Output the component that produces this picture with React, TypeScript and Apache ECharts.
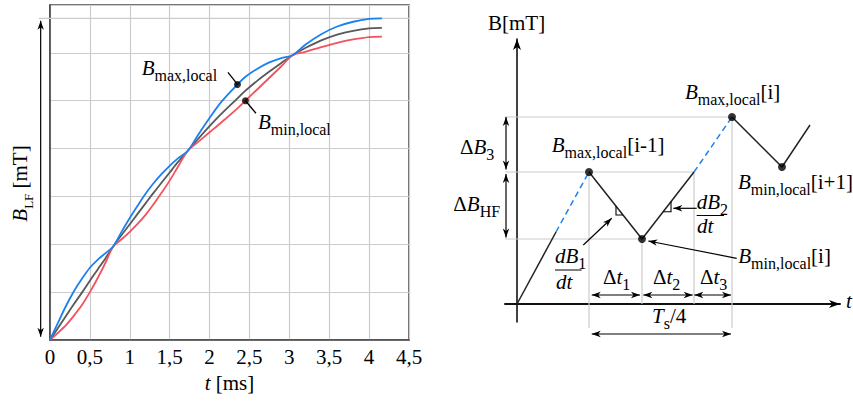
import React, { useEffect, useRef } from "react";
import * as echarts from "echarts";

const FONT = '"Liberation Serif", "Times New Roman", Times, serif';
const BLUE = "#1a80f0";
const RED = "#f2525f";
const DARK = "#585858";
const GRID = "#cccccc";
const INK = "#111111";

// Left panel: low-frequency flux density B_LF and its local envelopes (t in ms)
const tMs = [0, 0.1, 0.2, 0.3, 0.4, 0.5, 0.6, 0.7, 0.79, 0.9, 1.0, 1.1, 1.2, 1.3, 1.4, 1.5, 1.6, 1.73, 1.85, 2.0, 2.15, 2.35, 2.45, 2.6, 2.75, 2.9, 3.04, 3.2, 3.4, 3.6, 3.8, 4.0, 4.16];
const bLF = [0, 0.25, 0.5, 0.75, 0.99, 1.24, 1.48, 1.72, 1.95, 2.2, 2.42, 2.64, 2.86, 3.08, 3.29, 3.5, 3.71, 3.96, 4.19, 4.47, 4.73, 5.05, 5.21, 5.42, 5.61, 5.79, 5.95, 6.1, 6.26, 6.38, 6.46, 6.51, 6.52];
const bMaxLocal = [0, 0.36, 0.71, 1.02, 1.28, 1.51, 1.68, 1.82, 1.95, 2.27, 2.55, 2.81, 3.06, 3.28, 3.47, 3.64, 3.79, 3.96, 4.27, 4.64, 4.98, 5.34, 5.5, 5.67, 5.8, 5.89, 5.95, 6.17, 6.39, 6.55, 6.65, 6.71, 6.72];
const bMinLocal = [0, 0.15, 0.31, 0.51, 0.73, 1.0, 1.3, 1.63, 1.95, 2.11, 2.26, 2.43, 2.62, 2.84, 3.08, 3.33, 3.61, 3.96, 4.13, 4.34, 4.55, 4.84, 5.0, 5.24, 5.48, 5.72, 5.95, 6.02, 6.12, 6.21, 6.28, 6.33, 6.34];
const tAxis = { min: 0, max: 4.5, step: 0.5 };
const markedMaxT = 2.35;
const markedMinT = 2.45;

// Right panel: schematic HF triangle riding on B (arbitrary units)
const schemT = [0, 3.9, 7.2, 12.5, 17.7, 21.5, 26.5, 29.3];
const schemB = [0, 7.2, 13.2, 6.5, 13.2, 18.7, 13.7, 17.9];
const solidRuns = [[0, 1], [2, 3, 4], [5, 6, 7]];
const dashedRuns = [[1, 2], [4, 5]];
const dotIdx = [2, 3, 5, 6];

const tok = (size: number, italic: boolean, padB: number) => ({
  fontFamily: FONT,
  fontSize: size,
  fontStyle: italic ? "italic" : "normal",
  lineHeight: size + 3,
  padding: [0, 0, padB, 0],
  verticalAlign: "bottom",
  fill: "#000",
  color: "#000",
});
const RICH = {
  i: tok(21, true, 5),
  r: tok(21, false, 5),
  s: tok(16, false, 0),
  sl: tok(13, false, 1),
};

const pairs = (xs: number[], ys: number[], idx: number[]) => idx.map((k) => [xs[k], ys[k]]);

function buildOption(): any {
  const curve = (name: string, ys: number[], color: string) => ({
    name,
    type: "line",
    xAxisIndex: 0,
    yAxisIndex: 0,
    data: tMs.map((t, k) => [t, ys[k]]),
    showSymbol: false,
    smooth: 0.3,
    lineStyle: { color, width: 1.8 },
    z: 3,
  });
  const seg = (idx: number[], dashed: boolean) => ({
    type: "line",
    xAxisIndex: 1,
    yAxisIndex: 1,
    data: pairs(schemT, schemB, idx),
    showSymbol: false,
    lineStyle: dashed ? { color: BLUE, width: 1.5, type: [6, 4] } : { color: "#222", width: 1.5 },
    z: 3,
  });
  const idxOf = (t: number) => tMs.indexOf(t);
  return {
    animation: false,
    grid: [
      { left: 50, top: 5, width: 359, height: 335, show: true, borderColor: "#4a4a4a", borderWidth: 1.6 },
      { left: 505, top: 39, width: 335, height: 283 },
    ],
    xAxis: [
      {
        type: "value",
        gridIndex: 0,
        min: tAxis.min,
        max: tAxis.max,
        interval: tAxis.step,
        axisLine: { show: true, lineStyle: { color: "#4a4a4a", width: 1.6 } },
        axisTick: { show: false },
        splitLine: { show: true, lineStyle: { color: GRID, width: 1.2 } },
        axisLabel: {
          show: true,
          margin: 6,
          color: "#000",
          fontFamily: FONT,
          fontSize: 21,
          showMinLabel: true,
          showMaxLabel: true,
          formatter: (v: number) => String(v).replace(".", ","),
        },
      },
      {
        type: "value",
        gridIndex: 1,
        min: -1.2,
        max: 32.3,
        axisLine: { show: true, onZero: true, lineStyle: { color: INK, width: 2 } },
        axisTick: { show: false },
        axisLabel: { show: false },
        splitLine: { show: false },
      },
    ],
    yAxis: [
      {
        type: "value",
        gridIndex: 0,
        min: 0,
        max: 7,
        interval: 1,
        axisLine: { show: true, lineStyle: { color: "#4a4a4a", width: 1.6 } },
        axisTick: { show: false },
        axisLabel: { show: false },
        splitLine: { show: true, lineStyle: { color: GRID, width: 1.2 } },
      },
      {
        type: "value",
        gridIndex: 1,
        min: -1.8,
        max: 26.5,
        axisLine: { show: true, onZero: true, lineStyle: { color: INK, width: 1.6 } },
        axisTick: { show: false },
        axisLabel: { show: false },
        splitLine: { show: false },
      },
    ],
    series: [
      curve("B_LF", bLF, DARK),
      curve("B_min,local", bMinLocal, RED),
      curve("B_max,local", bMaxLocal, BLUE),
      {
        type: "scatter",
        xAxisIndex: 0,
        yAxisIndex: 0,
        symbolSize: 7,
        itemStyle: { color: "#000" },
        data: [
          [markedMaxT, bMaxLocal[idxOf(markedMaxT)]],
          [markedMinT, bMinLocal[idxOf(markedMinT)]],
        ],
        z: 5,
      },
      ...solidRuns.map((r) => seg(r, false)),
      ...dashedRuns.map((r) => seg(r, true)),
      {
        type: "scatter",
        xAxisIndex: 1,
        yAxisIndex: 1,
        symbolSize: 8,
        itemStyle: { color: "#000" },
        data: pairs(schemT, schemB, dotIdx),
        z: 5,
      },
    ],
  };
}

type P = (x: number, y: number) => number[];

function buildGraphics(pL: P, pR: P): any[] {
  const els: any[] = [];
  const line = (a: number[], b: number[], color = "#000", width = 1.2, z = 10) =>
    els.push({
      type: "line",
      z,
      silent: true,
      shape: { x1: a[0], y1: a[1], x2: b[0], y2: b[1] },
      style: { stroke: color, lineWidth: width },
    });
  const head = (tip: number[], tail: number[], len = 9, half = 3.2) => {
    const dx = tip[0] - tail[0];
    const dy = tip[1] - tail[1];
    const d = Math.hypot(dx, dy) || 1;
    const ux = dx / d;
    const uy = dy / d;
    const nx = -uy;
    const ny = ux;
    const bx = tip[0] - ux * len;
    const by = tip[1] - uy * len;
    const mx = tip[0] - ux * len * 0.72;
    const my = tip[1] - uy * len * 0.72;
    els.push({
      type: "polygon",
      z: 11,
      silent: true,
      shape: { points: [tip, [bx + nx * half, by + ny * half], [mx, my], [bx - nx * half, by - ny * half]] },
      style: { fill: "#000" },
    });
  };
  const arrow = (a: number[], b: number[], both: boolean) => {
    line(a, b);
    head(b, a);
    if (both) head(a, b);
  };
  const text = (x: number, baseline: number, s: string, extra: any = {}) =>
    els.push({
      type: "text",
      x,
      y: baseline - 18,
      z: 12,
      silent: true,
      style: { text: s, rich: RICH, align: "left", verticalAlign: "top", fill: "#000", font: `21px ${FONT}` },
      ...extra,
    });
  const off = (p: number[], dx: number, dy: number) => [p[0] + dx, p[1] + dy];

  // ---- left panel ----
  const vMax = Math.max(...bMaxLocal);
  line(pL(-0.14, vMax), pL(tAxis.max, vMax), GRID, 1.2, 1);
  arrow(pL(-0.117, vMax - 0.05), pL(-0.117, 0.07), true);

  const dotMax = pL(markedMaxT, bMaxLocal[tMs.indexOf(markedMaxT)]);
  const dotMin = pL(markedMinT, bMinLocal[tMs.indexOf(markedMinT)]);
  line(dotMax, off(dotMax, -9.5, -12), "#000", 1.3);
  line(dotMin, off(dotMin, 10.5, 12.5), "#000", 1.3);
  text(141.7, 77, "{i|B}{s|max,local}");
  text(258, 131.5, "{i|B}{s|min,local}");

  const xMid = (pL(tAxis.min, 0)[0] + pL(tAxis.max, 0)[0]) / 2;
  text(xMid, 392, "{i|t}{r| [ms]}", {});
  els[els.length - 1].style.align = "center";
  els.push({
    type: "text",
    x: 23.5,
    y: 183.5,
    rotation: Math.PI / 2,
    z: 12,
    silent: true,
    style: { text: "{i|B}{sl|LF}{r| [mT]}", rich: RICH, align: "center", verticalAlign: "middle", fill: "#000" },
  });

  // ---- right panel ----
  const P = (k: number) => pR(schemT[k], schemB[k]);
  const x0 = -1.2;
  // guide lines
  line(pR(x0, schemB[5]), P(5), GRID, 1.2, 1);
  line(pR(x0, schemB[2]), P(4), GRID, 1.2, 1);
  line(pR(x0, schemB[3]), P(3), GRID, 1.2, 1);
  line(P(2), pR(schemT[2], -2.4), GRID, 1.2, 1);
  line(P(3), pR(schemT[3], 0), GRID, 1.2, 1);
  line(P(4), pR(schemT[4], 0), GRID, 1.2, 1);
  line(P(5), pR(schemT[5], -2.4), GRID, 1.2, 1);

  // axis arrow heads
  head(pR(32.3, 0), pR(30, 0), 11, 4);
  head(pR(0, 26.5), pR(0, 24), 11, 4);

  // ΔB arrows
  arrow(pR(-1.1, 18.7), pR(-1.1, 13.45), true);
  arrow(pR(-1.1, 13.0), pR(-1.1, 6.65), true);
  // Δt arrows
  arrow(pR(7.47, 0.9), pR(12.3, 0.9), true);
  arrow(pR(12.63, 0.9), pR(17.57, 0.9), true);
  arrow(pR(17.73, 0.9), pR(21.4, 0.9), true);
  arrow(pR(7.47, -3.0), pR(21.4, -3.0), true);

  // slope marks on the falling and rising edges
  els.push({
    type: "polyline",
    z: 10,
    silent: true,
    shape: { points: [pR(9.9, 9.79), pR(9.9, 8.9), pR(10.6, 8.9)] },
    style: { stroke: "#000", lineWidth: 1.1, fill: null },
  });
  els.push({
    type: "polyline",
    z: 10,
    silent: true,
    shape: { points: [pR(14.62, 9.23), pR(15.4, 9.23), pR(15.4, 10.24)] },
    style: { stroke: "#000", lineWidth: 1.1, fill: null },
  });
  // pointers
  arrow(pR(6.63, 5.9), pR(9.47, 8.57), false);
  arrow(pR(17.97, 9.57), pR(15.63, 9.57), false);
  arrow(pR(21.97, 4.57), pR(13.13, 6.3), false);

  // labels
  text(488, 32, "{r|B[mT]}");
  text(685, 101.5, "{i|B}{s|max,local}{r|[i]}");
  text(551.7, 154, "{i|B}{s|max,local}{r|[i-1]}");
  text(738, 191, "{i|B}{s|min,local}{r|[i+1]}");
  text(738.3, 265, "{i|B}{s|min,local}{r|[i]}");
  text(460, 156.5, "{r|Δ}{i|B}{s|3}");
  text(453.3, 213, "{r|Δ}{i|B}{s|HF}");
  text(555, 265, "{i|dB}{s|1}");
  line([555, 270], [581.7, 270], "#000", 1);
  text(556, 291.5, "{i|dt}");
  text(696.7, 211, "{i|dB}{s|2}");
  line([696.7, 215.5], [724, 215.5], "#000", 1);
  text(697, 235, "{i|dt}");
  text(603, 286, "{r|Δ}{i|t}{s|1}");
  text(653, 286, "{r|Δ}{i|t}{s|2}");
  text(700, 286, "{r|Δ}{i|t}{s|3}");
  text(652, 325, "{i|T}{s|s}{r|/4}");
  text(846, 310, "{i|t}");
  return els;
}

export default function App() {
  const ref = useRef<HTMLDivElement>(null);
  useEffect(() => {
    const el = ref.current;
    if (!el) return;
    const chart = echarts.init(el, null, { renderer: "svg" });
    chart.setOption(buildOption());
    const pL: P = (x, y) => chart.convertToPixel({ gridIndex: 0 }, [x, y]) as number[];
    const pR: P = (x, y) => chart.convertToPixel({ gridIndex: 1 }, [x, y]) as number[];
    chart.setOption({ graphic: { elements: buildGraphics(pL, pR) } });
    return () => chart.dispose();
  }, []);
  return (
    <div
      ref={ref}
      style={{ position: "fixed", left: 0, top: 0, width: 853, height: 401, background: "#fff" }}
    />
  );
}
